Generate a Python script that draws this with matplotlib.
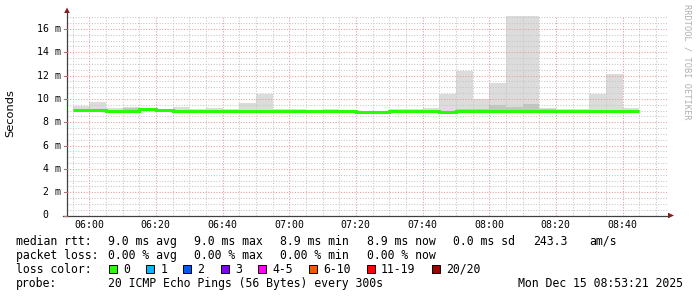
import numpy as np
import matplotlib
matplotlib.use('Agg')
import matplotlib.pyplot as plt
from matplotlib.patches import Polygon, Rectangle

# ---------------- data ----------------
view_start_min = 5 * 60 + 53 + 21 / 60.0   # 05:53:21
view_end_min = 8 * 60 + 53 + 21 / 60.0     # 08:53:21
data_start_min = 5 * 60 + 55               # first interval starts 05:55
step_min = 5

median_ms = [9.07, 9.07, 8.97, 9.00, 9.10, 9.07, 8.98, 8.98, 8.98, 8.98,
             8.98, 8.98, 8.98, 8.98, 8.98, 8.98, 8.98, 8.88, 8.88, 8.98,
             8.98, 8.98, 8.88, 8.98, 8.98, 8.98, 8.98, 8.98, 8.98, 8.98,
             8.98, 8.98, 8.98, 8.98]
smoke_max_ms = [9.40, 9.77, 9.20, 9.30, 9.25, 9.15, 9.30, 9.10, 9.25, 9.10,
                9.66, 10.43, 9.12, 9.12, 9.05, 9.12, 9.05, 8.95, 8.97, 9.10,
                9.10, 9.25, 10.43, 12.40, 10.00, 11.40, 17.40, 17.40, 9.20, 9.10,
                9.10, 10.43, 12.14, 9.25]
smoke_min_ms = [8.95, 8.95, 8.88, 8.90, 8.95, 8.95, 8.90, 8.90, 8.90, 8.80,
                8.88, 8.88, 8.85, 8.80, 8.85, 8.85, 8.80, 8.80, 8.80, 8.90,
                8.90, 8.90, 8.82, 8.90, 8.90, 8.90, 8.90, 8.90, 8.90, 8.90,
                8.90, 8.90, 8.82, 8.90]
core_hi_ms = [9.10, 9.10, 9.02, 9.25, 9.20, 9.10, 9.02, 9.02, 9.02, 9.02,
              9.02, 9.05, 9.02, 9.02, 9.02, 9.02, 9.02, 8.92, 8.92, 9.02,
              9.02, 9.05, 8.95, 9.10, 9.15, 9.50, 9.30, 9.55, 9.10, 9.02,
              9.02, 9.05, 9.05, 9.02]
core_lo_ms = [9.00, 9.00, 8.92, 8.95, 9.00, 9.00, 8.95, 8.95, 8.95, 8.92,
              8.92, 8.92, 8.92, 8.92, 8.92, 8.92, 8.92, 8.85, 8.85, 8.95,
              8.95, 8.95, 8.85, 8.95, 8.95, 8.95, 8.95, 8.95, 8.95, 8.95,
              8.95, 8.95, 8.92, 8.95]

y_major = [0, 2, 4, 6, 8, 10, 12, 14, 16]
y_labels = ["0", "2 m", "4 m", "6 m", "8 m", "10 m", "12 m", "14 m", "16 m"]
x_tick_labels = ["06:00", "06:20", "06:40", "07:00", "07:20", "07:40",
                 "08:00", "08:20", "08:40"]
x_tick_minutes = [360, 380, 400, 420, 440, 460, 480, 500, 520]

rtt_stats = ["9.0 ms avg", "9.0 ms max", "8.9 ms min", "8.9 ms now",
             "0.0 ms sd", "243.3", "am/s"]
loss_stats = ["0.00 % avg", "0.00 % max", "0.00 % min", "0.00 % now"]
loss_labels = ["0", "1", "2", "3", "4-5", "6-10", "11-19", "20/20"]
loss_colors = ["#26ff00", "#00b8ff", "#0059ff", "#7e00ff", "#ff00ff",
               "#ff5500", "#ff0000", "#a10000"]
probe_text = "20 ICMP Echo Pings (56 Bytes) every 300s"
stamp_text = "Mon Dec 15 08:53:21 2025"

# ---------------- layout ----------------
W, H = 697, 297
X0, X1 = 67, 667
Y0, YT = 215.5, 15.5
YMAX = 17.15
MONO = 'DejaVu Sans Mono'

fig = plt.figure(figsize=(W / 100, H / 100), dpi=100)
fig.patch.set_facecolor('white')

ax = fig.add_axes([X0 / W, (H - Y0) / H, (X1 - X0) / W, (Y0 - YT) / H])
ax.set_xlim(view_start_min, view_end_min)
ax.set_ylim(0, YMAX)
ax.set_facecolor('white')
for s in ax.spines.values():
    s.set_visible(False)
ax.set_xticks([])
ax.set_yticks([])

edges = data_start_min + step_min * np.arange(len(median_ms) + 1)
ax.stairs(smoke_max_ms, edges, baseline=smoke_min_ms, fill=True,
          color='#dcdcdc', lw=0, zorder=1)
ax.stairs(core_hi_ms, edges, baseline=core_lo_ms, fill=True,
          color='#c4c4c4', lw=0, zorder=1.1)

# grid (drawn over smoke)
minor_grid = dict(color='#c6c6c6', lw=0.75, ls=(0, (1.0, 1.6)), zorder=2)
major_grid = dict(color='#e49c9c', lw=0.75, ls=(0, (1.0, 1.6)), zorder=2.1)
for v in np.arange(0.5, YMAX, 0.5):
    if abs(v / 2 - round(v / 2)) > 1e-6:
        ax.axhline(v, **minor_grid)
for v in y_major[1:]:
    ax.axhline(v, **major_grid)
for m in np.arange(data_start_min, view_end_min, step_min):
    if m not in x_tick_minutes:
        ax.axvline(m, **minor_grid)
for m in x_tick_minutes:
    ax.axvline(m, **major_grid)

ax.stairs(median_ms, edges, baseline=None, color='#26ff00', lw=2.2,
          zorder=3)

# ---------------- pixel overlay ----------------
ov = fig.add_axes([0, 0, 1, 1])
ov.set_xlim(0, W)
ov.set_ylim(H, 0)
ov.axis('off')
ov.patch.set_alpha(0)

axis_col = '#404040'
arrow_col = '#8c1c1c'
ov.plot([X0, X0], [Y0 + 0.5, 12], color=axis_col, lw=0.9)
ov.plot([X0 - 4, 669], [Y0, Y0], color=axis_col, lw=0.9)
ov.add_patch(Polygon([[X0 - 2.8, 13], [X0 + 2.8, 13], [X0, 7.5]],
                     closed=True, color=arrow_col, lw=0))
ov.add_patch(Polygon([[668, Y0 - 2.8], [668, Y0 + 2.8], [674, Y0]],
                     closed=True, color=arrow_col, lw=0))

px_per_ms = (Y0 - YT) / YMAX
px_per_min = (X1 - X0) / (view_end_min - view_start_min)

# y tick labels + small ticks
for v, lab in zip(y_major, y_labels):
    yp = Y0 - v * px_per_ms
    if v == 0:
        ov.text(48.5, yp, lab, ha='right', va='center', fontsize=7.1,
                family=MONO, color='#000000')
    else:
        ov.text(61, yp, lab, ha='right', va='center', fontsize=7.1,
                family=MONO, color='#000000')
    ov.plot([X0 - 3, X0], [yp, yp], color='#b07070', lw=0.8)

# x tick labels
for m, lab in zip(x_tick_minutes, x_tick_labels):
    xp = X0 + (m - view_start_min) * px_per_min
    ov.text(xp, 224.5, lab, ha='center', va='center', fontsize=7.1,
            family=MONO, color='#000000')

# axis title and watermark
ov.text(10, 113, "Seconds", rotation=90, ha='center', va='center',
        fontsize=8.2, family='DejaVu Sans', color='#000000')
ov.text(687, 62, "RRDTOOL / TOBI OETIKER", rotation=270, ha='center',
        va='center', fontsize=6.2, family=MONO, color='#b0b0b0')

# legend rows
LFS = 8.3
row_y = [241.5, 255.5, 269.5, 283.5]
ov.text(16, row_y[0], "median rtt:", ha='left', va='center', fontsize=LFS,
        family=MONO)
for xp, t in zip([108, 194, 280, 367, 453, 533, 589], rtt_stats):
    ov.text(xp, row_y[0], t, ha='left', va='center', fontsize=LFS,
            family=MONO)
ov.text(16, row_y[1], "packet loss:", ha='left', va='center', fontsize=LFS,
        family=MONO)
for xp, t in zip([108, 194, 280, 367], loss_stats):
    ov.text(xp, row_y[1], t, ha='left', va='center', fontsize=LFS,
            family=MONO)
ov.text(16, row_y[2], "loss color:", ha='left', va='center', fontsize=LFS,
        family=MONO)
for xs, xt, lab, col in zip([108.5, 146, 183, 220.5, 258, 309, 367, 431.5],
                            [123.5, 160.5, 197.5, 235, 272.5, 323, 380.5, 446],
                            loss_labels, loss_colors):
    ov.add_patch(Rectangle((xs, row_y[2] - 4.5), 8, 8, facecolor=col,
                           edgecolor='#000000', lw=0.7))
    ov.text(xt, row_y[2], lab, ha='left', va='center', fontsize=LFS,
            family=MONO)
ov.text(16, row_y[3], "probe:", ha='left', va='center', fontsize=LFS,
        family=MONO)
ov.text(108, row_y[3], probe_text, ha='left', va='center', fontsize=LFS,
        family=MONO)
ov.text(683, row_y[3], stamp_text, ha='right', va='center', fontsize=LFS,
        family=MONO)

fig.savefig('out.png', dpi=100, facecolor='white')
